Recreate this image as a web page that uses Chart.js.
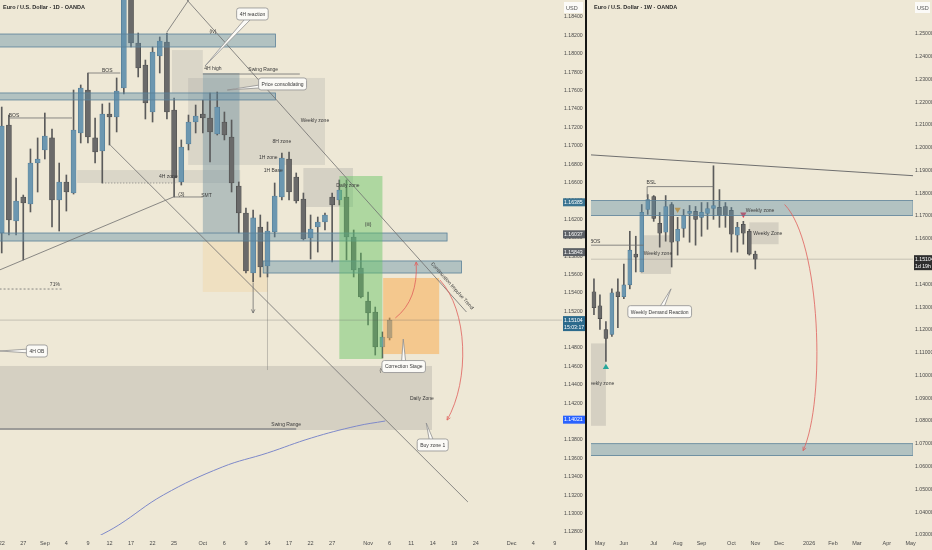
<!DOCTYPE html>
<html>
<head>
<meta charset="utf-8">
<script src="https://cdn.jsdelivr.net/npm/chart.js@4.4.1/dist/chart.umd.min.js"></script>
<style>
html,body{margin:0;padding:0;background:#eee8d6;}
#wrap{position:relative;width:932px;height:550px;overflow:hidden;background:#eee8d6;}
.pane{position:absolute;top:0;height:550px;}
#paneL{left:0;width:585px;}
#paneR{left:587px;width:345px;}
#split{position:absolute;left:585px;top:0;width:2px;height:550px;background:#151515;}
</style>
</head>
<body>
<div id="wrap">
  <div class="pane" id="paneL"><canvas id="dayChart" width="585" height="550"></canvas></div>
  <div id="split"></div>
  <div class="pane" id="paneR"><canvas id="weekChart" width="345" height="550"></canvas></div>
</div>
<script>
// EUR/USD daily candles, Aug 22 - Nov 6
const dayOpen  = [1.16051,1.17226,1.16182,1.16443,1.16367,1.16812,1.16954,1.17085,1.16410,1.16606,
                  1.16486,1.17139,1.17606,1.17085,1.16943,1.17345,1.17313,1.17628,1.18672,1.18117,
                  1.17878,1.17367,1.17976,1.18128,1.17389,1.16606,1.17019,1.17258,1.17345,1.17302,
                  1.17128,1.17258,1.17095,1.16562,1.16269,1.15616,1.16116,1.15692,1.16062,1.16443,
                  1.16856,1.16660,1.16421,1.15997,1.16116,1.16171,1.16443,1.16410,1.16443,1.16008,
                  1.15670,1.15312,1.15192,1.14811,1.14909];
const dayHigh  = [1.17421,1.17334,1.16649,1.16464,1.16965,1.17085,1.17356,1.17182,1.16812,1.16682,
                  1.17606,1.17661,1.17791,1.17302,1.17454,1.17465,1.17737,1.18716,1.18748,1.18226,
                  1.17932,1.18074,1.18183,1.18226,1.17519,1.17063,1.17334,1.17443,1.17498,1.17574,
                  1.17584,1.17367,1.17280,1.16606,1.16323,1.16301,1.16247,1.16171,1.16595,1.16921,
                  1.16932,1.16704,1.16486,1.16247,1.16225,1.16269,1.16486,1.16628,1.16628,1.16084,
                  1.15834,1.15410,1.15246,1.14975,1.15127];
const dayLow   = [1.15834,1.16029,1.16029,1.15758,1.16280,1.16497,1.16856,1.16116,1.16073,1.16290,
                  1.16475,1.17030,1.17030,1.16812,1.16595,1.17008,1.17150,1.17563,1.18074,1.17748,
                  1.17291,1.17258,1.17791,1.17291,1.16443,1.16573,1.16954,1.17139,1.17139,1.16823,
                  1.17117,1.17063,1.16497,1.16051,1.15616,1.15518,1.15573,1.15573,1.16008,1.16410,
                  1.16410,1.16377,1.15975,1.15768,1.15844,1.16084,1.15736,1.16356,1.15758,1.15573,
                  1.15344,1.15051,1.14724,1.14692,1.14888];
const dayClose = [1.17215,1.16193,1.16399,1.16377,1.16812,1.16856,1.17106,1.16410,1.16606,1.16497,
                  1.17171,1.17628,1.17095,1.16932,1.17345,1.17313,1.17595,1.18639,1.18117,1.17846,
                  1.17465,1.18020,1.18139,1.17367,1.16649,1.16986,1.17258,1.17323,1.17302,1.17150,
                  1.17421,1.17117,1.16595,1.16269,1.15638,1.16215,1.15681,1.16073,1.16453,1.16867,
                  1.16497,1.16399,1.15986,1.16095,1.16171,1.16247,1.16356,1.16519,1.16008,1.15649,
                  1.15355,1.15181,1.14811,1.14920,1.15104];
// moving average (bar index, price)
const dayMaAt    = [13.3, 16.3, 22.5, 30.7, 37.0, 43.1, 49.4, 53.4];
const dayMaValue = [1.12745, 1.12876, 1.13202, 1.13506, 1.13659, 1.13822, 1.13952, 1.14007];
const dayTickAt     = [0, 3, 6, 9, 12, 15, 18, 21, 24, 28, 31, 34, 37, 40, 43, 46, 51, 54, 57, 60, 63, 66, 71, 74, 77];
const dayTickLabels = ['22','27','Sep','4','9','12','17','22','25','Oct','6','9','14','17','22','27','Nov','6','11','14','19','24','Dec','4','9'];
const dayPriceTicks = [1.128,1.130,1.132,1.134,1.136,1.138,1.140,1.142,1.144,1.146,1.148,1.150,1.152,1.154,1.156,
                       1.158,1.160,1.162,1.164,1.166,1.168,1.170,1.172,1.174,1.176,1.178,1.180,1.182,1.184];

// EUR/USD weekly candles, week of Apr 28 - week of Nov 3
const wkOpen  = [1.13671,1.13061,1.12015,1.11797,1.13671,1.13453,1.13976,1.15327,1.14542,1.17287,
                 1.17854,1.16677,1.16285,1.17505,1.15893,1.16459,1.17113,1.17200,1.16939,1.17113,
                 1.17331,1.17375,1.17418,1.17244,1.16154,1.16634,1.16329,1.15327];
const wkHigh  = [1.14237,1.13540,1.12364,1.13802,1.14237,1.14891,1.16329,1.16111,1.17505,1.17941,
                 1.17897,1.17157,1.17897,1.17592,1.16939,1.17287,1.17462,1.17418,1.17592,1.17592,
                 1.19205,1.18159,1.17592,1.17375,1.16721,1.16765,1.16416,1.15457];
const wkLow   = [1.12669,1.12015,1.10621,1.11710,1.12102,1.13366,1.13802,1.14542,1.14542,1.17070,
                 1.16765,1.15632,1.15893,1.14760,1.15283,1.16067,1.15849,1.15719,1.16111,1.16416,
                 1.16852,1.16503,1.16503,1.15414,1.15414,1.15762,1.15283,1.14673];
const wkClose = [1.12974,1.12494,1.11623,1.13627,1.13453,1.13976,1.15501,1.15196,1.17157,1.17723,
                 1.16895,1.16242,1.17418,1.15849,1.16416,1.17026,1.17200,1.16852,1.17157,1.17331,
                 1.17462,1.17026,1.17026,1.16198,1.16503,1.16242,1.15327,1.15104];
const wkSignalAt    = [2, 14, 25];
const wkSignalPrice = [1.10360, 1.17287, 1.17070];
const wkTickAt     = [1, 5, 10, 14, 18, 23, 27, 31, 36, 40, 44, 49, 53];
const wkTickLabels = ['May','Jun','Jul','Aug','Sep','Oct','Nov','Dec','2026','Feb','Mar','Apr','May'];
const wkPriceTicks = [1.03,1.04,1.05,1.06,1.07,1.08,1.09,1.10,1.11,1.12,1.13,1.14,1.15,1.16,1.17,1.18,
                      1.19,1.20,1.21,1.22,1.23,1.24,1.25];

const UP = '#6c97b0', UP_EDGE = '#4d7690', DOWN = '#6a6a6a', DOWN_EDGE = '#444444', WICK = '#5b5b5b';
const FONT = '"Liberation Sans Narrow", "Liberation Sans", Arial, sans-serif';
const BAND = 'rgba(95,140,165,0.42)', BAND_EDGE = '#5a8199', GREYZONE = 'rgba(150,148,142,0.28)';
const INK = '#3a3a3a', LINE = '#6f6f6f', RED = '#e0605c';

function candleSets(open, high, low, close, bodyWidth) {
  const up = open.map((o, i) => close[i] >= o);
  return [
    {type:'bar', order:2, grouped:false, barThickness:1, backgroundColor:WICK,
     data: open.map((o, i) => ({x:i, y:[low[i], high[i]]}))},
    {type:'bar', order:1, grouped:false, barThickness:bodyWidth, minBarLength:1, borderWidth:0.6, borderSkipped:false,
     backgroundColor: up.map(u => u ? UP : DOWN), borderColor: up.map(u => u ? UP_EDGE : DOWN_EDGE),
     data: open.map((o, i) => ({x:i, y:[o, close[i]]}))}
  ];
}

function arrowHead(ctx, from, to, color) {
  const a = Math.atan2(to[1] - from[1], to[0] - from[0]);
  ctx.setLineDash([]);
  ctx.strokeStyle = color;
  ctx.beginPath();
  ctx.moveTo(to[0] - 4 * Math.cos(a - 0.45), to[1] - 4 * Math.sin(a - 0.45));
  ctx.lineTo(to[0], to[1]);
  ctx.lineTo(to[0] - 4 * Math.cos(a + 0.45), to[1] - 4 * Math.sin(a + 0.45));
  ctx.stroke();
}

function paint(chart, items) {
  const {ctx, chartArea: a} = chart;
  const sx = chart.scales.x, sy = chart.scales.y;
  const X = v => sx.getPixelForValue(v), Y = v => sy.getPixelForValue(v);
  ctx.save();
  ctx.beginPath(); ctx.rect(a.left, a.top, a.right - a.left, a.bottom - a.top); ctx.clip();
  items.forEach(d => {
    ctx.setLineDash(d.dash || []);
    ctx.lineWidth = d.width || 0.8;
    if (d.t === 'box') {
      const x0 = X(d.x[0]), x1 = X(d.x[1]), y0 = Y(d.p[0]), y1 = Y(d.p[1]);
      ctx.fillStyle = d.fill;
      ctx.fillRect(x0, y0, x1 - x0, y1 - y0);
      if (d.stroke) { ctx.strokeStyle = d.stroke; ctx.strokeRect(x0, y0, x1 - x0, y1 - y0); }
    } else if (d.t === 'line') {
      const q = d.pts.map(([x, p]) => [X(x), Y(p)]);
      ctx.strokeStyle = d.color || LINE;
      ctx.beginPath();
      q.forEach((pt, k) => k ? ctx.lineTo(pt[0], pt[1]) : ctx.moveTo(pt[0], pt[1]));
      ctx.stroke();
      if (d.arrow) arrowHead(ctx, q[q.length - 2], q[q.length - 1], d.color || LINE);
    } else if (d.t === 'curve') {
      const q = d.pts.map(([x, p]) => [X(x), Y(p)]);
      ctx.strokeStyle = d.color;
      ctx.beginPath();
      ctx.moveTo(q[0][0], q[0][1]);
      if (q.length === 3) ctx.quadraticCurveTo(q[1][0], q[1][1], q[2][0], q[2][1]);
      else ctx.bezierCurveTo(q[1][0], q[1][1], q[2][0], q[2][1], q[3][0], q[3][1]);
      ctx.stroke();
      arrowHead(ctx, q[q.length - 2], q[q.length - 1], d.color);
    } else if (d.t === 'text') {
      ctx.font = (d.bold ? 'bold ' : '') + (d.size || 5) + 'px ' + FONT;
      ctx.fillStyle = d.color || INK;
      ctx.textAlign = d.align || 'center';
      ctx.textBaseline = 'middle';
      ctx.save();
      ctx.translate(X(d.at[0]), Y(d.at[1]));
      if (d.along) {
        const l = d.along;
        ctx.rotate(Math.atan2(Y(l[1][1]) - Y(l[0][1]), X(l[1][0]) - X(l[0][0])));
      }
      ctx.fillText(d.s, 0, 0);
      ctx.restore();
    } else if (d.t === 'callout') {
      ctx.font = (d.size || 5) + 'px ' + FONT;
      const cx = X(d.at[0]), cy = Y(d.at[1]), tx = X(d.tip[0]), ty = Y(d.tip[1]);
      const w = ctx.measureText(d.s).width + 6, h = 12;
      const ang = Math.atan2(ty - cy, tx - cx), nx = -Math.sin(ang) * 2.5, ny = Math.cos(ang) * 2.5;
      ctx.fillStyle = '#fbfaf6'; ctx.strokeStyle = '#8f8f8f';
      ctx.beginPath(); ctx.moveTo(cx + nx, cy + ny); ctx.lineTo(tx, ty); ctx.lineTo(cx - nx, cy - ny); ctx.closePath();
      ctx.fill(); ctx.stroke();
      ctx.beginPath(); ctx.roundRect(cx - w / 2, cy - h / 2, w, h, 2.5);
      ctx.fill(); ctx.stroke();
      ctx.fillStyle = INK; ctx.textAlign = 'center'; ctx.textBaseline = 'middle';
      ctx.fillText(d.s, cx, cy + 0.5);
    }
  });
  ctx.restore();
}

function frame(chart, title, tags) {
  const {ctx, chartArea: a} = chart, sy = chart.scales.y;
  ctx.save();
  tags.forEach(t => {
    const y = sy.getPixelForValue(t.p), h = t.sub ? 15 : 8;
    ctx.fillStyle = t.bg;
    ctx.fillRect(sy.left + 1, y - 4, sy.right - sy.left - 1, h);
    ctx.fillStyle = '#ffffff';
    ctx.font = '5.2px ' + FONT; ctx.textAlign = 'left'; ctx.textBaseline = 'middle';
    ctx.fillText(t.s, sy.left + 2, y);
    if (t.sub) ctx.fillText(t.sub, sy.left + 2, y + 7);
  });
  ctx.fillStyle = '#fbfaf7';
  ctx.fillRect(sy.left + 2, 2, sy.right - sy.left - 4, 11);
  ctx.fillStyle = '#555'; ctx.font = '5.5px ' + FONT; ctx.textAlign = 'left'; ctx.textBaseline = 'middle';
  ctx.fillText('USD', sy.left + 4, 8);
  ctx.fillStyle = '#2a2a2a'; ctx.font = 'bold 5.5px ' + FONT;
  ctx.fillText(title, a.left + 3, 7);
  ctx.restore();
}

function candleOptions(xMin, xMax, yMin, yMax, tickAt, tickLabels, priceTicks, axisWidth) {
  return {
    responsive: false,
    animation: false,
    layout: {padding: 0},
    plugins: {legend: {display: false}, tooltip: {enabled: false}},
    scales: {
      x: {
        type: 'linear', min: xMin, max: xMax, offset: false,
        grid: {display: false, drawTicks: false}, border: {display: false},
        afterBuildTicks: s => { s.ticks = tickAt.map(v => ({value: v})); },
        afterFit: s => { s.height = 15; s.paddingLeft = 0; s.paddingRight = 0; },
        ticks: {autoSkip: false, maxRotation: 0, padding: 5, color: '#4a4a4a',
                font: {size: 5.5, family: FONT}, callback: (v, i) => tickLabels[i]}
      },
      y: {
        position: 'right', min: yMin, max: yMax,
        grid: {display: false, drawTicks: false}, border: {display: false},
        afterBuildTicks: s => { s.ticks = priceTicks.map(v => ({value: v})); },
        afterFit: s => { s.width = axisWidth; s.paddingTop = 0; s.paddingBottom = 0; },
        ticks: {padding: 2, color: '#4a4a4a', font: {size: 5.2, family: FONT}, callback: v => Number(v).toFixed(5)}
      }
    }
  };
}

// ---- daily chart drawings (bar index, price) ----
const diagDown = [[25.8, 1.18585], [64.7, 1.15192]];
const dayUnder = [
  {t:'box', x:[-0.3, 59.9], p:[1.14605, 1.13909], fill:GREYZONE},
  {t:'box', x:[25.95, 45.0], p:[1.17737, 1.16791], fill:'rgba(150,150,150,0.22)'},
  {t:'box', x:[23.7, 28.0], p:[1.18041, 1.17574], fill:'rgba(150,150,150,0.22)'},
  {t:'box', x:[10.5, 33.2], p:[1.16736, 1.16595], fill:'rgba(150,150,150,0.22)'},
  {t:'box', x:[42.0, 48.9], p:[1.16758, 1.16334], fill:'rgba(150,150,150,0.28)'},
  {t:'box', x:[28.0, 37.0], p:[1.15975, 1.15410], fill:'rgba(245,200,130,0.25)'},
  {t:'box', x:[28.0, 33.1], p:[1.17791, 1.16051], fill:'rgba(110,145,160,0.45)'}
];
const dayOver = [
  {t:'box', x:[-0.3, 38.1], p:[1.18215, 1.18074], fill:BAND, stroke:BAND_EDGE},
  {t:'box', x:[-0.3, 38.1], p:[1.17574, 1.17498], fill:BAND, stroke:BAND_EDGE},
  {t:'box', x:[-0.3, 62.0], p:[1.16051, 1.15964], fill:BAND, stroke:BAND_EDGE},
  {t:'box', x:[36.4, 64.0], p:[1.15747, 1.15616], fill:BAND, stroke:BAND_EDGE},
  {t:'box', x:[47.0, 53.0], p:[1.16671, 1.14681], fill:'rgba(95,195,95,0.45)'},
  {t:'box', x:[53.1, 60.9], p:[1.15562, 1.14735], fill:'rgba(250,168,70,0.5)'},
  {t:'line', pts:[[-0.3, 1.15104], [78, 1.15104]], color:'rgba(90,90,90,0.35)'},
  {t:'line', pts:diagDown},
  {t:'line', pts:[[15.1, 1.17008], [64.9, 1.13126]]},
  {t:'line', pts:[[-0.3, 1.15649], [23.9, 1.16443], [28.0, 1.16443]]},
  {t:'line', pts:[[23.0, 1.18237], [26.5, 1.18639]]},
  {t:'line', pts:[[28.0, 1.17780], [41.5, 1.17780]]},
  {t:'line', pts:[[12.0, 1.17791], [16.5, 1.17791]]},
  {t:'line', pts:[[1.0, 1.17302], [9.8, 1.17302]]},
  {t:'line', pts:[[-0.3, 1.15442], [8.4, 1.15442]], dash:[2, 2]},
  {t:'line', pts:[[14.0, 1.16595], [24.4, 1.16595]], dash:[1, 2]},
  {t:'line', pts:[[-0.3, 1.13920], [41.0, 1.13920]], color:'#8a8a8a', width:1.4},
  {t:'line', pts:[[37.0, 1.15573], [37.0, 1.14561]], color:'rgba(90,90,90,0.4)'},
  {t:'line', pts:[[35.0, 1.15507], [35.0, 1.15181]], arrow:true},
  {t:'curve', pts:[[54.8, 1.15127], [58.0, 1.15323], [57.7, 1.15736]], color:RED},
  {t:'curve', pts:[[61.0, 1.15540], [64.9, 1.15214], [65.2, 1.14453], [62.0, 1.14017]], color:RED},
  {t:'text', at:[29.4, 1.18237], s:'(iv)'},
  {t:'text', at:[29.4, 1.17835], s:'4H high'},
  {t:'text', at:[14.7, 1.17813], s:'BOS'},
  {t:'text', at:[1.7, 1.17324], s:'BOS'},
  {t:'text', at:[36.4, 1.17824], s:'Swing Range'},
  {t:'text', at:[43.6, 1.17269], s:'Weekly zone'},
  {t:'text', at:[39.0, 1.17041], s:'8H zone'},
  {t:'text', at:[37.1, 1.16867], s:'1H zone'},
  {t:'text', at:[37.8, 1.16725], s:'1H Base'},
  {t:'text', at:[23.2, 1.16660], s:'4H zone'},
  {t:'text', at:[48.2, 1.16562], s:'Daily zone'},
  {t:'text', at:[25.0, 1.16464], s:'(3)'},
  {t:'text', at:[28.5, 1.16453], s:'SMT'},
  {t:'text', at:[51.0, 1.16138], s:'(iii)'},
  {t:'text', at:[7.4, 1.15486], s:'71%'},
  {t:'text', at:[53.0, 1.14550], s:'(v)'},
  {t:'text', at:[58.5, 1.14246], s:'Daily Zone'},
  {t:'text', at:[39.6, 1.13963], s:'Swing Range'},
  {t:'text', at:[62.7, 1.15475], s:'Continuation Impulse Trend', along:diagDown},
  {t:'callout', at:[34.9, 1.18433], tip:[28.3, 1.17867], s:'4H reaction'},
  {t:'callout', at:[39.1, 1.17672], tip:[31.4, 1.17606], s:'Price consolidating'},
  {t:'callout', at:[4.9, 1.14768], tip:[-0.3, 1.14768], s:'4H OB'},
  {t:'callout', at:[55.96, 1.14599], tip:[55.9, 1.14898], s:'Correction Stage'},
  {t:'callout', at:[60.0, 1.13746], tip:[59.1, 1.13985], s:'Buy zone 1'}
];
const dayTags = [
  {p:1.16385, s:'1.16385', bg:'#3b7491'},
  {p:1.16037, s:'1.16037', bg:'#5d6166'},
  {p:1.15843, s:'1.15843', bg:'#5d6166'},
  {p:1.15104, s:'1.15104', sub:'15:03:17', bg:'#2b6a8c'},
  {p:1.14021, s:'1.14021', bg:'#2962ff'}
];

// ---- weekly chart drawings ----
const wkUnder = [
  {t:'box', x:[-0.6, 2.0], p:[1.11405, 1.07789], fill:GREYZONE},
  {t:'box', x:[7.8, 12.9], p:[1.16154, 1.14455], fill:GREYZONE},
  {t:'box', x:[26.0, 30.9], p:[1.16721, 1.15762], fill:GREYZONE}
];
const wkOver = [
  {t:'box', x:[-0.6, 53.4], p:[1.17680, 1.17026], fill:BAND, stroke:BAND_EDGE},
  {t:'box', x:[-0.6, 53.4], p:[1.07004, 1.06481], fill:BAND, stroke:BAND_EDGE},
  {t:'line', pts:[[-0.6, 1.15104], [53.4, 1.15104]], color:'rgba(90,90,90,0.35)'},
  {t:'line', pts:[[-0.6, 1.19684], [53.4, 1.18769]], width:1},
  {t:'line', pts:[[8.9, 1.17811], [8.9, 1.18290], [20.0, 1.18290]]},
  {t:'line', pts:[[-0.6, 1.15719], [8.3, 1.15719]]},
  {t:'curve', pts:[[31.9, 1.17505], [38.0, 1.15850], [38.8, 1.08878], [35.0, 1.06700]], color:RED},
  {t:'text', at:[9.6, 1.18464], s:'BSL'},
  {t:'text', at:[0.2, 1.15893], s:'BOS'},
  {t:'text', at:[27.8, 1.17244], s:'Weekly zone'},
  {t:'text', at:[29.1, 1.16242], s:'Weekly Zone'},
  {t:'text', at:[10.7, 1.15327], s:'Weekly zone'},
  {t:'text', at:[1.0, 1.09619], s:'Weekly zone'},
  {t:'callout', at:[11.0, 1.12799], tip:[12.9, 1.13802], s:'Weekly Demand Reaction'}
];
const wkTags = [{p:1.15104, s:'1.15104', sub:'1d 19h', bg:'#2e2e2e'}];

new Chart(document.getElementById('dayChart'), {
  type: 'bar',
  data: {
    datasets: [
      ...candleSets(dayOpen, dayHigh, dayLow, dayClose, 5),
      {type:'line', order:3, data: dayMaAt.map((x, i) => ({x: x, y: dayMaValue[i]})),
       borderColor:'#7d88c9', borderWidth:1, pointRadius:0, tension:0.4, fill:false}
    ]
  },
  options: candleOptions(-0.24, 78.0, 1.12767, 1.18585, dayTickAt, dayTickLabels, dayPriceTicks, 23),
  plugins: [{
    id: 'dayDrawings',
    beforeDatasetsDraw: c => paint(c, dayUnder),
    afterDatasetsDraw: c => paint(c, dayOver),
    afterDraw: c => frame(c, 'Euro / U.S. Dollar · 1D · OANDA', dayTags)
  }]
});

new Chart(document.getElementById('weekChart'), {
  type: 'bar',
  data: {
    datasets: [
      ...candleSets(wkOpen, wkHigh, wkLow, wkClose, 4),
      {type:'scatter', order:0, data: wkSignalAt.map((x, i) => ({x: x, y: wkSignalPrice[i]})),
       pointStyle:'triangle', pointRadius:3.6, borderWidth:0,
       backgroundColor:['#26a69a', '#f39c1e', '#e63950'], rotation:[0, 180, 180]}
    ]
  },
  options: candleOptions(-0.496, 53.39, 1.02995, 1.26307, wkTickAt, wkTickLabels, wkPriceTicks, 19),
  plugins: [{
    id: 'weekDrawings',
    beforeDatasetsDraw: c => paint(c, wkUnder),
    afterDatasetsDraw: c => paint(c, wkOver),
    afterDraw: c => frame(c, 'Euro / U.S. Dollar · 1W · OANDA', wkTags)
  }]
});
</script>
</body>
</html>
